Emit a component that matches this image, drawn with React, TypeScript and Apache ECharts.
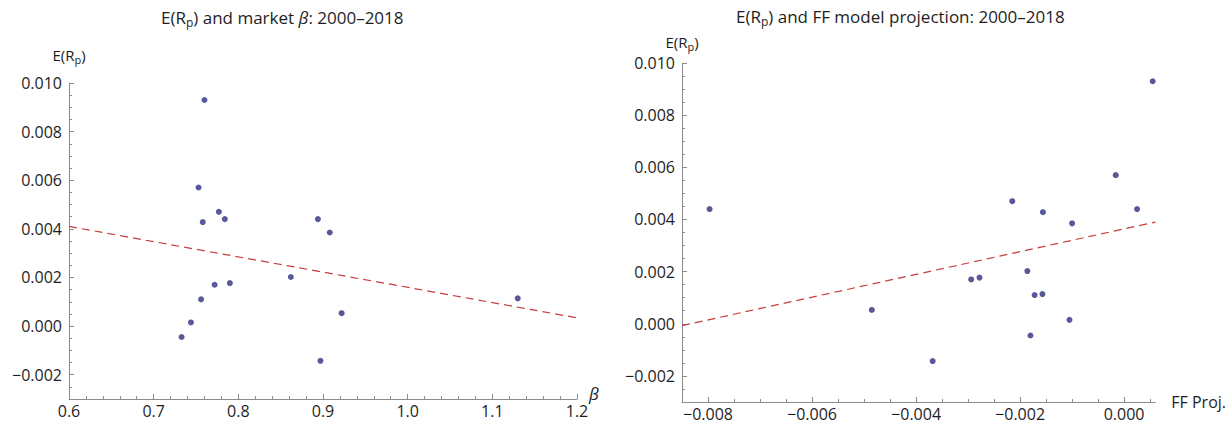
import React, { useEffect, useRef } from "react";
import * as echarts from "echarts";

// E(R_p) for the 16 portfolios (shared by both panels)
const expectedReturns = [
  0.0093, 0.0057, 0.00428, 0.0047, 0.0044, 0.0044, 0.00385, 0.00202,
  0.0017, 0.00177, 0.0011, 0.00015, -0.00045, -0.00143, 0.00053, 0.00114,
];
// market beta of each portfolio (left panel)
const marketBetas = [
  0.76, 0.753, 0.758, 0.777, 0.784, 0.894, 0.908, 0.862,
  0.772, 0.79, 0.756, 0.744, 0.733, 0.897, 0.922, 1.13,
];
// FF model projection of each portfolio (right panel)
const ffProjections = [
  0.00055, -0.00016, -0.00156, -0.00215, -0.00797, 0.00025, -0.001, -0.00186,
  -0.00294, -0.00278, -0.00172, -0.00105, -0.0018, -0.00368, -0.00485, -0.00157,
];
// fitted regression lines (end points)
const betaFitX = [0.6, 1.2];
const betaFitY = [0.0041, 0.00034];
const ffFitX = [-0.0085, 0.0006];
const ffFitY = [-0.00007, 0.0039];

// tick labels
const betaTicks = [0.6, 0.7, 0.8, 0.9, 1.0, 1.1, 1.2];
const ffTicks = [-0.008, -0.006, -0.004, -0.002, 0.0];
const returnTicks = [-0.002, 0.0, 0.002, 0.004, 0.006, 0.008, 0.01];

const betaMinor: number[] = [];
for (let i = 1; i < 30; i++) if (i % 5 !== 0) betaMinor.push(Math.round((0.6 + i * 0.02) * 1000) / 1000);
const ffMinor: number[] = [];
for (let k = -16; k <= 1; k++) if (k % 4 !== 0) ffMinor.push(Math.round(k * 5) / 10000);
const returnMinor: number[] = [];
for (let k = -5; k <= 19; k++) if (k % 4 !== 0) returnMinor.push(Math.round(k * 5) / 10000);

const FONT = "'Open Sans', sans-serif";
const AXIS = "#8c8c8c";
const TXT = "#1e1e1e";
const DOT = "#2f2f80";
const FIT = "#c83c3c";

const minus = (s: string) => s.replace("-", "\u2212");

const richTitle = {
  a: { fontSize: 17, fontFamily: FONT, fontWeight: "normal", color: TXT, lineHeight: 22 },
  s: { fontSize: 12, fontFamily: FONT, fontWeight: "normal", color: TXT, lineHeight: 12, verticalAlign: "bottom" },
  b: { fontSize: 17, fontFamily: FONT, fontWeight: "normal", color: TXT, lineHeight: 22, fontStyle: "italic" },
};
const richName = {
  a: { fontSize: 15, fontFamily: FONT, color: TXT, lineHeight: 20 },
  s: { fontSize: 11, fontFamily: FONT, color: TXT, lineHeight: 10, verticalAlign: "bottom" },
};

function majorX(grid: number, min: number, max: number, ticks: number[], fmt: (v: number) => string, name: string, nameStyle: any, nameGap: number) {
  return {
    type: "value", gridIndex: grid, position: "bottom", min, max,
    axisLine: { show: true, onZero: false, lineStyle: { color: AXIS, width: 1 } },
    axisTick: { show: true, inside: true, length: 5, customValues: ticks, lineStyle: { color: AXIS } },
    axisLabel: { show: true, customValues: ticks, formatter: fmt, margin: 4, fontSize: 16, lineHeight: 15, fontFamily: FONT, color: TXT },
    splitLine: { show: false },
    name, nameLocation: "end", nameGap, nameTextStyle: nameStyle,
  };
}
function minorX(grid: number, min: number, max: number, ticks: number[]) {
  return {
    type: "value", gridIndex: grid, position: "bottom", min, max,
    axisLine: { show: false, onZero: false },
    axisTick: { show: true, inside: true, length: 3, customValues: ticks, lineStyle: { color: AXIS } },
    axisLabel: { show: false },
    splitLine: { show: false },
  };
}
function majorY(grid: number, nameGap: number) {
  return {
    type: "value", gridIndex: grid, position: "left", min: -0.003, max: 0.01,
    axisLine: { show: true, onZero: false, lineStyle: { color: AXIS, width: 1 } },
    axisTick: { show: true, inside: true, length: 5, customValues: returnTicks, lineStyle: { color: AXIS } },
    axisLabel: { show: true, customValues: returnTicks, formatter: (v: number) => minus(v.toFixed(3)), margin: 7, fontSize: 16, fontFamily: FONT, color: TXT },
    splitLine: { show: false },
    name: "{a|E(R}{s|p}{a|)}", nameLocation: "end", nameGap,
    nameTextStyle: { rich: richName, align: "center", verticalAlign: "bottom" },
  };
}
function minorY(grid: number) {
  return {
    type: "value", gridIndex: grid, position: "left", min: -0.003, max: 0.01,
    axisLine: { show: false, onZero: false },
    axisTick: { show: true, inside: true, length: 3, customValues: returnMinor, lineStyle: { color: AXIS } },
    axisLabel: { show: false },
    splitLine: { show: false },
  };
}

export default function App() {
  const ref = useRef<HTMLDivElement>(null);
  useEffect(() => {
    const chart = echarts.init(ref.current!, null, { renderer: "svg" });
    chart.setOption({
      animation: false,
      backgroundColor: "#ffffff",
      title: [
        { left: 156, top: 1, text: "{a|E(R}{s|p}{a|) and market }{b|β}{a|: 2000–2018}", textStyle: { fontWeight: "normal", rich: richTitle } },
        { left: 731, top: 0, text: "{a|E(R}{s|p}{a|) and FF model projection: 2000–2018}", textStyle: { fontWeight: "normal", rich: richTitle } },
      ],
      grid: [
        { left: 69, top: 83, width: 508, height: 316 },
        { left: 682, top: 63, width: 474, height: 339 },
      ],
      xAxis: [
        majorX(0, 0.6, 1.2, betaTicks, (v: number) => v.toFixed(1), "β", { fontSize: 17, fontStyle: "italic", fontFamily: FONT, color: TXT, verticalAlign: "bottom", lineHeight: 12 }, 12),
        minorX(0, 0.6, 1.2, betaMinor),
        majorX(1, -0.0085, 0.0006, ffTicks, (v: number) => minus(v.toFixed(3)), "FF Proj.", { fontSize: 16, fontFamily: FONT, color: TXT }, 16),
        minorX(1, -0.0085, 0.0006, ffMinor),
      ],
      yAxis: [majorY(0, 18), minorY(0), majorY(1, 11), minorY(1)],
      series: [
        {
          type: "line", xAxisIndex: 0, yAxisIndex: 0, showSymbol: false, silent: true,
          data: betaFitX.map((x, i) => [x, betaFitY[i]]),
          lineStyle: { color: FIT, width: 1.2, type: [8, 5] },
        },
        {
          type: "scatter", xAxisIndex: 0, yAxisIndex: 0, symbolSize: 6,
          data: marketBetas.map((b, i) => [b, expectedReturns[i]]),
          itemStyle: { color: DOT },
        },
        {
          type: "line", xAxisIndex: 2, yAxisIndex: 2, showSymbol: false, silent: true,
          data: ffFitX.map((x, i) => [x, ffFitY[i]]),
          lineStyle: { color: FIT, width: 1.2, type: [8, 5] },
        },
        {
          type: "scatter", xAxisIndex: 2, yAxisIndex: 2, symbolSize: 6,
          data: ffProjections.map((p, i) => [p, expectedReturns[i]]),
          itemStyle: { color: DOT },
        },
      ],
    });
    return () => chart.dispose();
  }, []);
  return <div ref={ref} style={{ position: "absolute", left: 0, top: 0, width: 1229, height: 423 }} />;
}
